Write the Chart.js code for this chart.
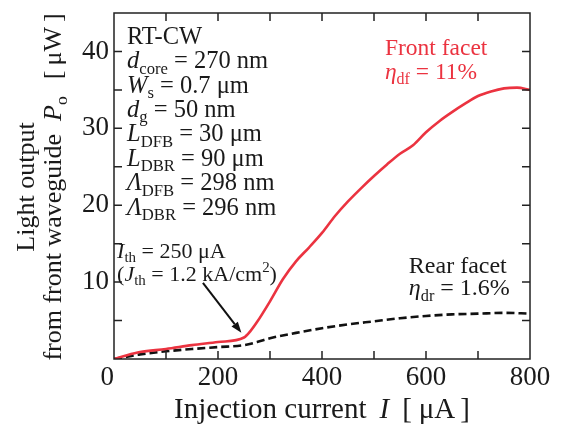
<!DOCTYPE html>
<html>
<head>
<meta charset="utf-8">
<script src="https://cdn.jsdelivr.net/npm/chart.js@4"></script>
<style>
  html, body { margin: 0; padding: 0; background: #fff; }
  #wrap { width: 562px; height: 427px; }
</style>
</head>
<body>
<div id="wrap"><canvas id="chart" width="562" height="427"></canvas></div>
<script>
// Front facet (red, solid)
var currentFront = [0, 25, 50, 100, 150, 200, 250, 262, 275, 300, 325, 350, 375, 400, 425, 450, 475, 500, 525, 550, 575, 600, 625, 650, 675, 700, 725, 750, 775, 800];
var powerFront   = [0, 0.5, 0.9, 1.3, 1.8, 2.2, 2.8, 3.6, 4.8, 7.5, 10.4, 12.7, 14.5, 16.4, 18.6, 20.5, 22.2, 23.8, 25.3, 26.7, 27.8, 29.5, 30.9, 32.1, 33.2, 34.2, 34.8, 35.2, 35.3, 35.0];

// Rear facet (black, dashed)
var currentRear = [0, 25, 50, 100, 150, 200, 250, 275, 300, 350, 400, 450, 500, 550, 600, 650, 700, 750, 800];
var powerRear   = [0, 0.3, 0.6, 1.0, 1.3, 1.55, 1.8, 2.2, 2.7, 3.4, 4.0, 4.5, 4.9, 5.3, 5.6, 5.8, 5.9, 6.0, 5.9];

var xTicks = [0, 200, 400, 600, 800];
var yTicks = [10, 20, 30, 40];

var FONT = '"Liberation Serif", "Times New Roman", serif';
var RED = '#eb3340';
var INK = '#1a1a1a';

function toPoints(xs, ys) {
  return xs.map(function(x, i) { return { x: x, y: ys[i] }; });
}

// mixed text runs: {t, it, sub, sup, gap}
function runFont(r, size) {
  var fs = (r.sub || r.sup) ? size * 0.68 : size;
  return (r.it ? 'italic ' : '') + fs + 'px ' + FONT;
}

function runsWidth(ctx, runs, size) {
  var w = 0;
  runs.forEach(function(r) {
    ctx.font = runFont(r, size);
    w += (r.gap || 0) + ctx.measureText(r.t).width;
  });
  return w;
}

function drawRuns(ctx, x, y, runs, size) {
  runs.forEach(function(r) {
    ctx.font = runFont(r, size);
    var dy = r.sub ? size * 0.22 : (r.sup ? -size * 0.38 : 0);
    x += r.gap || 0;
    ctx.fillText(r.t, x, y + dy);
    x += ctx.measureText(r.t).width;
  });
}

var paramLines = [
  [{ t: 'RT-CW' }],
  [{ t: 'd', it: 1 }, { t: 'core', sub: 1 }, { t: ' = 270 nm' }],
  [{ t: 'W', it: 1 }, { t: 's', sub: 1 }, { t: ' = 0.7 \u03bcm' }],
  [{ t: 'd', it: 1 }, { t: 'g', sub: 1 }, { t: ' = 50 nm' }],
  [{ t: 'L', it: 1 }, { t: 'DFB', sub: 1 }, { t: ' = 30 \u03bcm' }],
  [{ t: 'L', it: 1 }, { t: 'DBR', sub: 1 }, { t: ' = 90 \u03bcm' }],
  [{ t: '\u039b', it: 1 }, { t: 'DFB', sub: 1 }, { t: ' = 298 nm' }],
  [{ t: '\u039b', it: 1 }, { t: 'DBR', sub: 1 }, { t: ' = 296 nm' }]
];

var frontLines = [
  [{ t: 'Front facet' }],
  [{ t: '\u03b7', it: 1 }, { t: 'df', sub: 1 }, { t: ' = 11%' }]
];

var rearLines = [
  [{ t: 'Rear facet' }],
  [{ t: '\u03b7', it: 1 }, { t: 'dr', sub: 1 }, { t: ' = 1.6%' }]
];

var thLines = [
  [{ t: 'I', it: 1 }, { t: 'th', sub: 1 }, { t: ' = 250 \u03bcA' }],
  [{ t: '(' }, { t: 'J', it: 1 }, { t: 'th', sub: 1 }, { t: ' = 1.2 kA/cm' }, { t: '2', sup: 1 }, { t: ')' }]
];

var xTitle = [{ t: 'Injection current' }, { t: 'I', it: 1, gap: 13 }, { t: '[', gap: 13 }, { t: '\u03bcA', gap: 7 }, { t: ']', gap: 5 }];
var yTitle1 = [{ t: 'Light output' }];
var yTitle2 = [{ t: 'from front waveguide' }, { t: 'P', it: 1, gap: 13 }, { t: 'o', sub: 1 }, { t: '[', gap: 17 }, { t: '\u03bcW', gap: 5 }, { t: ']', gap: 5 }];

var decorPlugin = {
  id: 'decor',
  afterDraw: function(chart) {
    var ctx = chart.ctx, a = chart.chartArea;
    var xs = chart.scales.x, ys = chart.scales.y;
    ctx.save();

    // frame
    ctx.strokeStyle = '#222';
    ctx.lineWidth = 1.5;
    ctx.strokeRect(a.left, a.top, a.right - a.left, a.bottom - a.top);

    // inward ticks on all four sides
    var tl = 8;
    ctx.beginPath();
    for (var v = 100; v < 800; v += 100) {
      var px = xs.getPixelForValue(v);
      ctx.moveTo(px, a.bottom); ctx.lineTo(px, a.bottom - tl);
      ctx.moveTo(px, a.top); ctx.lineTo(px, a.top + tl);
    }
    for (var w = 5; w < 45; w += 5) {
      var py = ys.getPixelForValue(w);
      ctx.moveTo(a.left, py); ctx.lineTo(a.left + tl, py);
      ctx.moveTo(a.right, py); ctx.lineTo(a.right - tl, py);
    }
    ctx.stroke();

    // threshold arrow
    var x0 = xs.getPixelForValue(171), y0 = ys.getPixelForValue(9.9);
    var x1 = xs.getPixelForValue(245), y1 = ys.getPixelForValue(3.4);
    var ang = Math.atan2(y1 - y0, x1 - x0);
    var hl = 11, hw = 4;
    ctx.strokeStyle = '#111';
    ctx.fillStyle = '#111';
    ctx.lineWidth = 2;
    ctx.beginPath();
    ctx.moveTo(x0, y0);
    ctx.lineTo(x1 - hl * Math.cos(ang), y1 - hl * Math.sin(ang));
    ctx.stroke();
    ctx.beginPath();
    ctx.moveTo(x1, y1);
    ctx.lineTo(x1 - hl * Math.cos(ang) + hw * Math.sin(ang), y1 - hl * Math.sin(ang) - hw * Math.cos(ang));
    ctx.lineTo(x1 - hl * Math.cos(ang) - hw * Math.sin(ang), y1 - hl * Math.sin(ang) + hw * Math.cos(ang));
    ctx.closePath();
    ctx.fill();

    // annotations
    ctx.textAlign = 'left';
    ctx.textBaseline = 'alphabetic';
    ctx.fillStyle = INK;
    var bx = xs.getPixelForValue(25), by = ys.getPixelForValue(41.0);
    paramLines.forEach(function(l, i) { drawRuns(ctx, bx, by + i * 24.4, l, 24.5); });

    var tx = xs.getPixelForValue(6), ty = ys.getPixelForValue(13.2);
    thLines.forEach(function(l, i) { drawRuns(ctx, tx, ty + i * 23, l, 22); });

    var rx = xs.getPixelForValue(567), ry = ys.getPixelForValue(11.2);
    rearLines.forEach(function(l, i) { drawRuns(ctx, rx, ry + i * 22.5, l, 24); });

    ctx.fillStyle = RED;
    var fx = xs.getPixelForValue(521), fy = ys.getPixelForValue(39.6);
    frontLines.forEach(function(l, i) { drawRuns(ctx, fx, fy + i * 24, l, 23.5); });

    // axis titles
    ctx.fillStyle = INK;
    var xw = runsWidth(ctx, xTitle, 29);
    drawRuns(ctx, (a.left + a.right) / 2 - xw / 2, 418, xTitle, 29);

    var yc = 187;
    [[yTitle1, 34], [yTitle2, 61]].forEach(function(p) {
      var len = runsWidth(ctx, p[0], 26);
      ctx.save();
      ctx.translate(p[1], yc + len / 2);
      ctx.rotate(-Math.PI / 2);
      drawRuns(ctx, 0, 0, p[0], 26);
      ctx.restore();
    });

    ctx.restore();
  }
};

new Chart(document.getElementById('chart'), {
  type: 'line',
  data: {
    datasets: [
      {
        label: 'Front facet',
        data: toPoints(currentFront, powerFront),
        borderColor: RED,
        borderWidth: 2.6,
        pointRadius: 0,
        fill: false,
        cubicInterpolationMode: 'monotone'
      },
      {
        label: 'Rear facet',
        data: toPoints(currentRear, powerRear),
        borderColor: '#111',
        borderWidth: 2.6,
        borderDash: [8, 4],
        pointRadius: 0,
        fill: false,
        cubicInterpolationMode: 'monotone'
      }
    ]
  },
  options: {
    responsive: false,
    animation: false,
    layout: { padding: { top: 13, right: 32, left: 0, bottom: 0 } },
    plugins: { legend: { display: false }, tooltip: { enabled: false } },
    scales: {
      x: {
        type: 'linear',
        min: 0,
        max: 800,
        afterFit: function(s) { s.height = 68; s.paddingLeft = 0; s.paddingRight = 0; },
        afterBuildTicks: function(s) { s.ticks = xTicks.map(function(v) { return { value: v }; }); },
        grid: { display: false, drawTicks: false },
        border: { display: false },
        ticks: {
          padding: 3,
          color: INK,
          font: { family: FONT, size: 27 },
          maxRotation: 0,
          callback: function(v) { return v === 0 ? '0\u2002' : String(v); }
        }
      },
      y: {
        type: 'linear',
        min: 0,
        max: 45,
        afterFit: function(s) { s.width = 114; s.paddingTop = 0; s.paddingBottom = 0; },
        afterBuildTicks: function(s) { s.ticks = yTicks.map(function(v) { return { value: v }; }); },
        grid: { display: false, drawTicks: false },
        border: { display: false },
        ticks: {
          padding: 5,
          color: INK,
          font: { family: FONT, size: 27 },
          callback: function(v) { return String(v); }
        }
      }
    }
  },
  plugins: [decorPlugin]
});
</script>
</body>
</html>
